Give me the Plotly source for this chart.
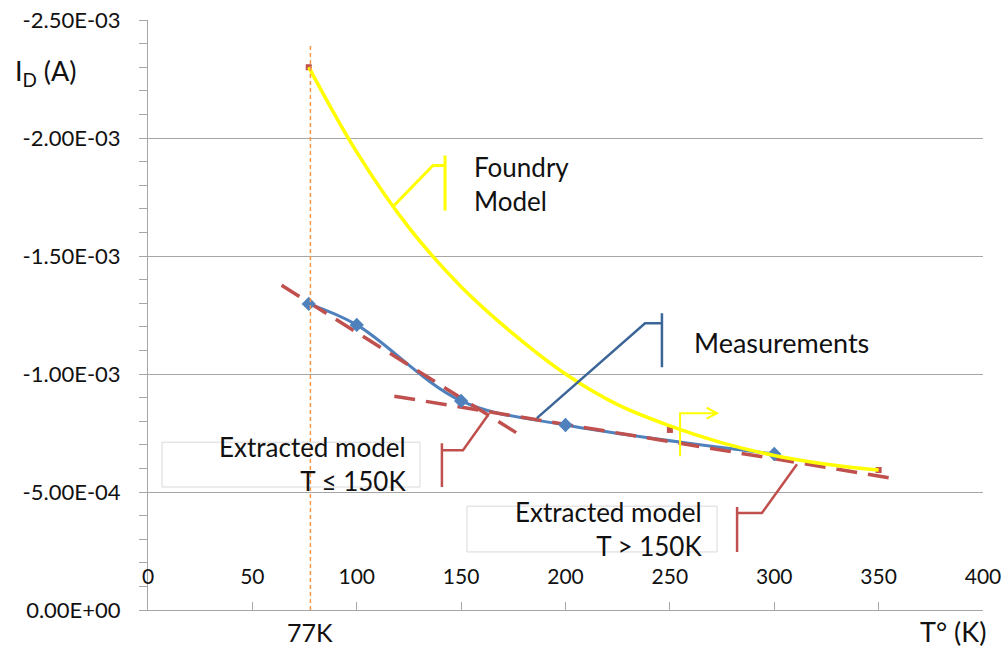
import plotly.graph_objects as go

# ---------------- data ----------------
T_meas = [77, 100, 150, 200, 300]
I_meas = [-1.297e-3, -1.208e-3, -0.886e-3, -0.784e-3, -0.661e-3]

T_foundry = [77, 100, 125, 150, 175, 200, 225, 250, 275, 300, 325, 350]
I_foundry = [-2.30e-3, -1.94e-3, -1.62e-3, -1.37e-3, -1.17e-3, -1.00e-3,
             -0.87e-3, -0.78e-3, -0.708e-3, -0.655e-3, -0.618e-3, -0.593e-3]

T_foundry_marks = [77, 250, 350]
I_foundry_marks = [-2.30e-3, -0.763e-3, -0.593e-3]

T_ext_low = [64, 179]
I_ext_low = [-1.376e-3, -0.737e-3]
T_ext_high = [118, 356]
I_ext_high = [-0.906e-3, -0.559e-3]

T_77K = 77.8

x_ticks = [0, 50, 100, 150, 200, 250, 300, 350, 400]
y_ticks = [0, -5e-4, -1e-3, -1.5e-3, -2e-3, -2.5e-3]
y_tick_text = ["0.00E+00", "-5.00E-04", "-1.00E-03", "-1.50E-03", "-2.00E-03", "-2.50E-03"]

FONT = "Lato, 'Open Sans', sans-serif"
BLUE = "#4F81BD"
RED = "#C0504D"
YELLOW = "#FFFF00"
DARKBLUE = "#3C6598"
GRID = "#A6A6A6"
TXT = "#111111"

fig = go.Figure()

fig.add_trace(go.Scatter(x=T_meas, y=I_meas, mode="lines",
                         line=dict(color=BLUE, width=3, shape="spline", smoothing=1),
                         hoverinfo="skip", showlegend=False))
fig.add_trace(go.Scatter(x=T_ext_low, y=I_ext_low, mode="lines",
                         line=dict(color=RED, width=3.5, dash="21px,11px"),
                         showlegend=False))
fig.add_trace(go.Scatter(x=T_ext_high, y=I_ext_high, mode="lines",
                         line=dict(color=RED, width=3.5, dash="21px,11px"),
                         showlegend=False))
fig.add_trace(go.Scatter(x=T_meas, y=I_meas, mode="markers",
                         marker=dict(symbol="diamond", size=11, color=BLUE),
                         showlegend=False))
fig.add_trace(go.Scatter(x=T_foundry_marks, y=I_foundry_marks, mode="markers",
                         marker=dict(symbol="square", size=6, color=RED),
                         showlegend=False))
fig.add_trace(go.Scatter(x=T_foundry, y=I_foundry, mode="lines",
                         line=dict(color=YELLOW, width=3.5, shape="spline", smoothing=1),
                         showlegend=False))

shapes = []
# 77K vertical marker line
shapes.append(dict(type="line", xref="x", yref="y", x0=T_77K, x1=T_77K,
                   y0=0, y1=-2.40e-3,
                   line=dict(color="#F79646", width=1.5, dash="4px,3px")))
# text boxes
shapes.append(dict(type="rect", xref="x", yref="y", x0=6.7, x1=130.3,
                   y0=-0.711e-3, y1=-0.521e-3, line=dict(color="#D9D9D9", width=1)))
shapes.append(dict(type="rect", xref="x", yref="y", x0=152.8, x1=272.6,
                   y0=-0.440e-3, y1=-0.246e-3, line=dict(color="#D9D9D9", width=1)))


def path(points_list):
    s = ""
    for pts in points_list:
        s += "M %g,%g " % pts[0]
        for p in pts[1:]:
            s += "L %g,%g " % p
    return s.strip()


# Foundry callout (yellow)
shapes.append(dict(type="path", xref="x", yref="y",
                   path=path([[(117.4, -1.710e-3), (136.5, -1.884e-3), (142.3, -1.884e-3)],
                              [(142.3, -1.926e-3), (142.3, -1.693e-3)]]),
                   line=dict(color=YELLOW, width=3)))
# Measurements callout (blue)
shapes.append(dict(type="path", xref="x", yref="y",
                   path=path([[(186.3, -0.813e-3), (238.1, -1.215e-3), (246.2, -1.215e-3)],
                              [(246.2, -1.257e-3), (246.2, -1.029e-3)]]),
                   line=dict(color=DARKBLUE, width=2.5)))
# Extracted model low callout (red)
shapes.append(dict(type="path", xref="x", yref="y",
                   path=path([[(162.9, -0.826e-3), (150.9, -0.677e-3), (140.8, -0.677e-3)],
                              [(140.8, -0.707e-3), (140.8, -0.521e-3)]]),
                   line=dict(color=RED, width=2.5)))
# Extracted model high callout (red)
shapes.append(dict(type="path", xref="x", yref="y",
                   path=path([[(310.9, -0.618e-3), (294.1, -0.411e-3), (282.2, -0.411e-3)],
                              [(282.2, -0.436e-3), (282.2, -0.246e-3)]]),
                   line=dict(color=RED, width=2.5)))
# yellow arrow
shapes.append(dict(type="path", xref="x", yref="y",
                   path=path([[(254.9, -0.652e-3), (254.9, -0.834e-3), (272.6, -0.834e-3)],
                              [(267.6, -0.857e-3), (272.6, -0.834e-3), (267.6, -0.811e-3)]]),
                   line=dict(color=YELLOW, width=2)))

annotations = [
    dict(text="Foundry<br>Model", x=155.2, y=-1.806e-3, xref="x", yref="y",
         xanchor="left", yanchor="middle", align="left", showarrow=False,
         font=dict(family=FONT, size=26, color=TXT)),
    dict(text="Measurements", x=260.6, y=-1.135e-3, xref="x", yref="y",
         xanchor="left", yanchor="middle", align="left", showarrow=False,
         font=dict(family=FONT, size=27, color=TXT)),
    dict(text="Extracted model<br>T ≤ 150K", x=124.6, y=-0.618e-3, xref="x", yref="y",
         xanchor="right", yanchor="middle", align="right", showarrow=False,
         font=dict(family=FONT, size=26, color=TXT)),
    dict(text="Extracted model<br>T > 150K", x=266.3, y=-0.343e-3, xref="x", yref="y",
         xanchor="right", yanchor="middle", align="right", showarrow=False,
         font=dict(family=FONT, size=26, color=TXT)),
    dict(text="I<sub>D</sub> (A)", x=-0.162, y=0.911, xref="paper", yref="paper",
         xanchor="left", yanchor="middle", showarrow=False,
         font=dict(family=FONT, size=27, color=TXT)),
    dict(text="77K", x=T_77K, y=-0.037, xref="x", yref="paper",
         xanchor="center", yanchor="middle", showarrow=False,
         font=dict(family=FONT, size=25, color=TXT)),
    dict(text="T° (K)", x=1.006, y=-0.037, xref="paper", yref="paper",
         xanchor="right", yanchor="middle", showarrow=False,
         font=dict(family=FONT, size=27, color=TXT)),
]

fig.update_layout(
    width=1006, height=651,
    margin=dict(l=148, r=23, t=20, b=41, pad=0),
    paper_bgcolor="white", plot_bgcolor="white",
    font=dict(family=FONT, color=TXT),
    showlegend=False,
    shapes=shapes,
    annotations=annotations,
    xaxis=dict(range=[0, 400], tickvals=x_ticks, ticks="inside", ticklen=8,
               tickcolor=GRID, ticklabelposition="outside", ticklabelstandoff=-52,
               tickfont=dict(family=FONT, size=21, color=TXT),
               showline=True, linecolor=GRID, linewidth=1, automargin=False,
               showgrid=False, zeroline=False),
    yaxis=dict(range=[0, -2.5e-3], autorange=False, tickvals=y_ticks, ticktext=y_tick_text,
               ticks="outside", ticklen=8, tickcolor=GRID, ticklabelstandoff=14,
               tickfont=dict(family=FONT, size=22, color=TXT), automargin=False,
               showline=True, linecolor=GRID, linewidth=1,
               showgrid=True, gridcolor=GRID, gridwidth=1, zeroline=False,
               minor=dict(ticks="outside", ticklen=8, tickcolor=GRID, dtick=1e-4,
                          tick0=0, showgrid=False)),
)

fig.write_html("out.html", config={"displayModeBar": False},
               post_script="document.body.style.margin='0';document.body.style.overflow='hidden';")
